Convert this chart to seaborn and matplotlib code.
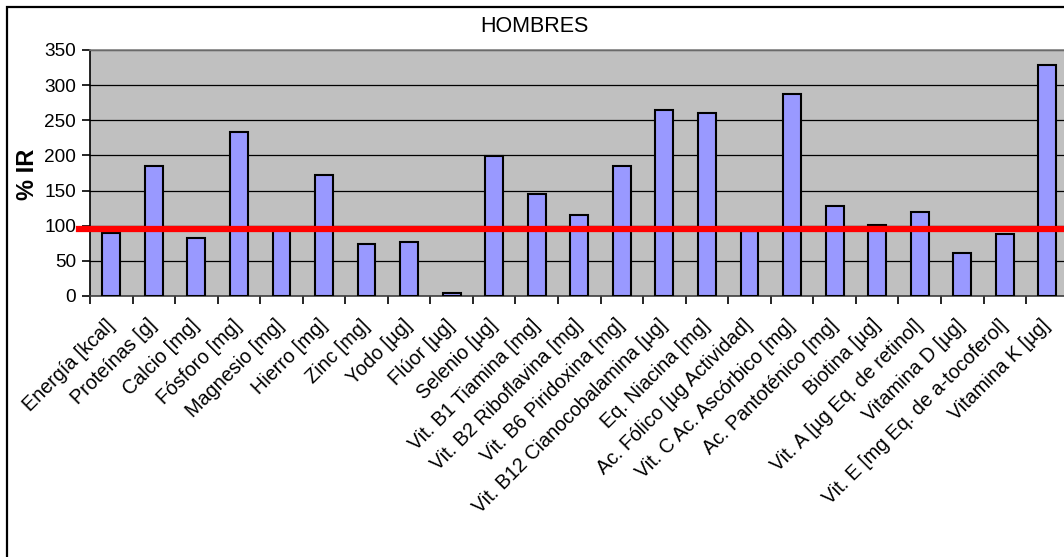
import matplotlib
matplotlib.use("Agg")
import matplotlib.pyplot as plt
import matplotlib.patches as mpatches
import seaborn as sns
import pandas as pd

# Percentage of the recommended intake (% IR) per nutrient, men
nutrientes = [
    "Energía [kcal]", "Proteínas [g]", "Calcio [mg]", "Fósforo [mg]",
    "Magnesio [mg]", "Hierro [mg]", "Zinc [mg]", "Yodo [µg]", "Flúor [µg]",
    "Selenio [µg]", "Vit. B1 Tiamina [mg]", "Vit. B2 Riboflavina [mg]",
    "Vit. B6 Piridoxina [mg]", "Vit. B12 Cianocobalamina [µg]",
    "Eq. Niacina [mg]", "Ac. Fólico [µg Actividad]",
    "Vit. C Ac. Ascórbico [mg]", "Ac. Pantoténico [mg]", "Biotina [µg]",
    "Vit. A [µg Eq. de retinol]", "Vitamina D [µg]",
    "Vit. E [mg Eq. de a-tocoferol]", "Vitamina K [µg]",
]
porcentaje_ir = [
    90, 185, 82, 233, 95, 172, 74, 77, 4, 199, 145, 115, 185, 264, 260,
    93, 287, 128, 101, 120, 61, 88, 328,
]
referencia = 95
yticks = [0, 50, 100, 150, 200, 250, 300, 350]

df = pd.DataFrame({"nutriente": nutrientes, "ir": porcentaje_ir})

W, H = 1064, 557
fig = plt.figure(figsize=(W / 100, H / 100), dpi=100)
plt.rcParams["font.family"] = ["Liberation Sans", "DejaVu Sans"]

left, right, top, bottom = 90, 1068.6, 50, 296
ax = fig.add_axes([left / W, 1 - bottom / H, (right - left) / W, (bottom - top) / H])
ax.set_facecolor("#C0C0C0")

sns.barplot(data=df, x="nutriente", y="ir", ax=ax, color="#9999FF",
            saturation=1, width=0.42, edgecolor="black", linewidth=1.5,
            zorder=3)

ax.set_ylim(0, 350)
ax.set_xlim(-0.5, len(nutrientes) - 0.5)
ax.set_yticks(yticks)
ax.set_yticklabels([str(v) for v in yticks], fontsize=13.7)
ax.yaxis.grid(True, color="black", linewidth=0.9, zorder=1)
ax.set_axisbelow(True)
ax.set_xlabel("")
ax.set_ylabel("")

# category labels at bar centres, tick marks on category boundaries
ax.set_xticks(range(len(nutrientes)))
ax.set_xticklabels(nutrientes, rotation=45, ha="right", va="center",
                   rotation_mode="anchor", fontsize=14.2)
ax.tick_params(axis="x", which="major", length=0, pad=19)
ax.set_xticks([i - 0.5 for i in range(len(nutrientes) + 1)], minor=True)
ax.tick_params(axis="x", which="minor", length=6, width=1.2, color="black")
ax.tick_params(axis="y", length=6, width=1.2, color="black", pad=4)

for side in ["top", "right"]:
    ax.spines[side].set_color("#808080")
    ax.spines[side].set_linewidth(1.2)
ax.spines["left"].set_color("black")
ax.spines["bottom"].set_color("#404040")
ax.spines["left"].set_linewidth(1.2)
ax.spines["bottom"].set_linewidth(1.2)

# reference line at the recommended intake
ax.axhline(referencia, xmin=(79 - left) / (right - left),
           xmax=(1063 - left) / (right - left), color="red",
           linewidth=4.5, zorder=5, clip_on=False)

fig.text(534 / W, 1 - 27 / H, "HOMBRES", ha="center", va="center",
         fontsize=15.5)
fig.text(27.5 / W, 1 - 174 / H, "% IR", ha="center", va="center",
         rotation=90, fontsize=17, fontweight="bold")

# chart frame
fig.patches.append(mpatches.Rectangle((7 / W, -0.1), 1.2, 1 - 7 / H + 0.1,
                                      transform=fig.transFigure, fill=False,
                                      edgecolor="black", linewidth=1.6))

fig.savefig("out.png", dpi=100, facecolor="white")
